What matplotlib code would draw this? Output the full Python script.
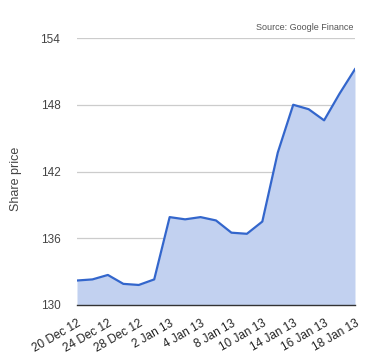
import matplotlib.pyplot as plt
from matplotlib.transforms import ScaledTranslation

dates = ['20 Dec 12', '21 Dec 12', '24 Dec 12', '27 Dec 12', '28 Dec 12', '31 Dec 12',
         '2 Jan 13', '3 Jan 13', '4 Jan 13', '7 Jan 13', '8 Jan 13', '9 Jan 13',
         '10 Jan 13', '11 Jan 13', '14 Jan 13', '15 Jan 13', '16 Jan 13', '17 Jan 13',
         '18 Jan 13']
prices = [132.2, 132.3, 132.7, 131.9, 131.8, 132.3, 137.9, 137.7, 137.9, 137.6,
          136.5, 136.4, 137.5, 143.7, 148.0, 147.6, 146.6, 149.0, 151.2]
yticks = [130, 136, 142, 148, 154]

plt.rcParams['font.family'] = ['Liberation Sans', 'DejaVu Sans']

fig = plt.figure(figsize=(3.8, 3.6), dpi=100)
ax = fig.add_axes([0.2026, 0.1528, 0.7316, 0.7416])

x = list(range(len(prices)))
ax.fill_between(x, 130, prices, color='#c2d1f0', lw=0)
ax.plot(x, prices, color='#3366cc', lw=1.6)

ax.set_xlim(0, len(prices) - 1)
ax.set_ylim(130, 154)
ax.set_yticks(yticks)
ax.set_yticklabels([str(v) for v in yticks], color='#444444', fontsize=8.5)
ax.set_xticks(x[::2])
ax.set_xticklabels(dates[::2], rotation=30, ha='right', va='top',
                   rotation_mode='anchor', color='#222222', fontsize=8.5)
shift = ScaledTranslation(4 / 72, 0, fig.dpi_scale_trans)
for lbl in ax.get_xticklabels():
    lbl.set_transform(lbl.get_transform() + shift)
ax.tick_params(length=0)
ax.tick_params(axis='y', pad=12)
ax.tick_params(axis='x', pad=9)
ax.grid(axis='y', color='#cccccc', lw=0.9)
ax.set_axisbelow(True)
for s in ['top', 'right', 'left']:
    ax.spines[s].set_visible(False)
ax.spines['bottom'].set_color('#333333')
ax.spines['bottom'].set_linewidth(1)

ax.set_ylabel('Share price', color='#444444', fontsize=9)
ax.yaxis.set_label_coords(-0.199, 0.474)
fig.text(0.93, 0.925, 'Source: Google Finance', ha='right', va='center',
         fontsize=6.5, color='#555555')

fig.savefig('out.png', dpi=100)
